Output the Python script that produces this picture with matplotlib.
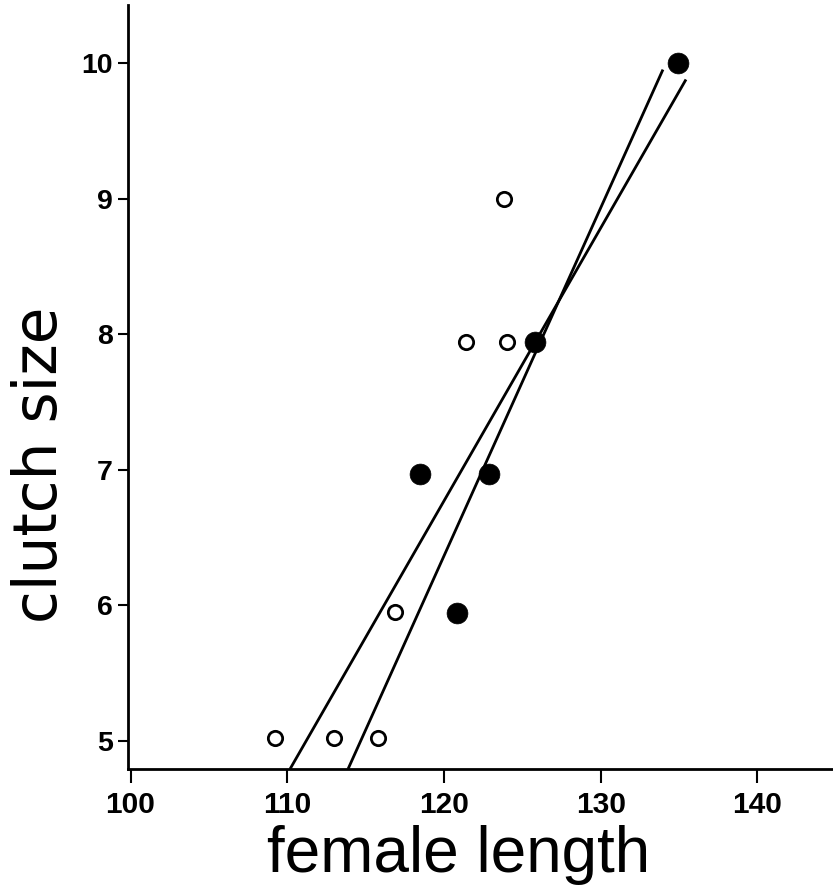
import matplotlib
matplotlib.use("Agg")
import matplotlib.pyplot as plt
import numpy as np

# ---- data ----
open_length = [109.2, 113.0, 115.8, 116.9, 121.4, 124.0, 123.8]
open_clutch = [5.02, 5.02, 5.02, 5.95, 7.94, 7.94, 9.0]

filled_length = [118.5, 120.8, 122.9, 125.8, 134.9]
filled_clutch = [6.97, 5.94, 6.97, 7.94, 10.0]

# regression lines: intercept, slope, x-range drawn
line_intercepts = [-17.411, -24.477]
line_slopes = [0.2015, 0.257]
line_x_start = [110.18, 113.88]
line_x_end = [135.44, 133.97]

x_ticks = [100, 110, 120, 130, 140]
y_ticks = [5, 6, 7, 8, 9, 10]

# ---- figure ----
W, H = 833, 888
fig = plt.figure(figsize=(W / 100, H / 100), dpi=100)
ax = fig.add_axes([128 / W, 1 - 769 / H, 1 - 128 / W, (769 - 5) / H])

for a, b, x0, x1 in zip(line_intercepts, line_slopes, line_x_start, line_x_end):
    xs = np.array([x0, x1])
    ax.plot(xs, a + b * xs, color="black", lw=2.0, solid_capstyle="butt", zorder=2)

ax.plot(open_length, open_clutch, linestyle="none", marker="o", ms=10.3,
        mfc="white", mec="black", mew=2.0, zorder=3)
ax.plot(filled_length, filled_clutch, linestyle="none", marker="o", ms=15,
        mfc="black", mec="black", mew=0.5, zorder=3)

ax.set_xlim(99.84, 144.82)
ax.set_ylim(4.79, 10.43)

for s in ["top", "right"]:
    ax.spines[s].set_visible(False)
for s in ["left", "bottom"]:
    ax.spines[s].set_linewidth(2.0)

ax.set_xticks(x_ticks)
ax.set_yticks(y_ticks)
ax.set_xticklabels([str(v) for v in x_ticks], fontfamily="Liberation Sans",
                   fontweight="bold", fontsize=21.5)
ax.set_yticklabels([str(v) for v in y_ticks], fontfamily="Liberation Sans",
                   fontweight="bold", fontsize=20.5)
ax.tick_params(axis="x", direction="out", length=10, width=1.5, pad=6)
ax.tick_params(axis="y", direction="out", length=7, width=1.5, pad=4)

fig.text(459 / W, 16 / H, "female length", fontfamily="Liberation Sans",
         fontsize=46, ha="center", va="baseline")
fig.text(57 / W, 1 - 465 / H, "clutch size", fontfamily="DejaVu Sans",
         fontsize=43, rotation=90, rotation_mode="anchor",
         ha="center", va="baseline")

fig.savefig("out.png", dpi=100)
